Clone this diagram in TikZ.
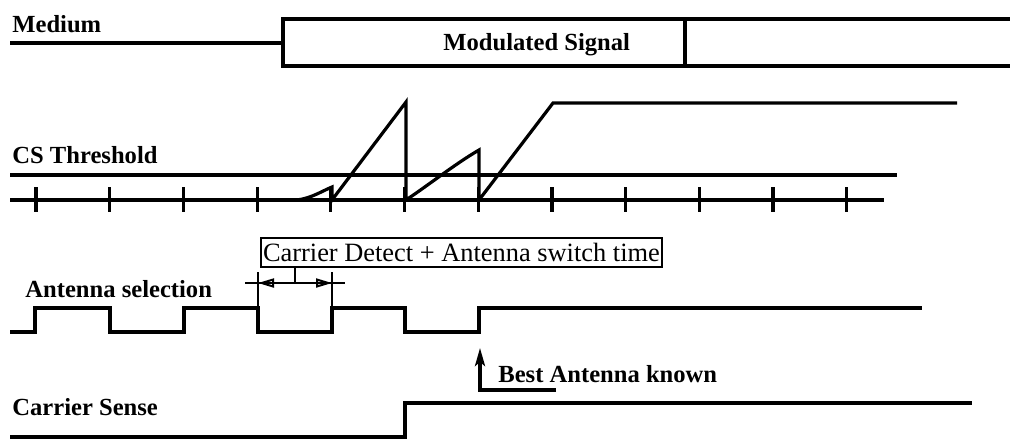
\documentclass[tikz,border=0pt]{standalone}
\usepackage{fontspec}
\setmainfont{Liberation Serif}
\usetikzlibrary{arrows.meta}
\tikzset{
  wave/.style={line width=1.6pt, line join=miter},
  thin/.style={line width=1pt},
  lbl/.style={font=\fontsize{12.3}{14}\selectfont\bfseries, inner sep=0pt, anchor=base west},
}
\begin{document}
\begin{tikzpicture}[x=0.5pt,y=-0.5pt]
\useasboundingbox (0,0) rectangle (1010,441);
% Medium
\node[lbl] (medium) at (12,32) {Medium};
\draw[wave] (10,43) -- (283,43);
\draw[wave] (1015,19) -- (283,19) -- (283,66) -- (1015,66);
\draw[wave] (685,19) -- (685,66);
\node[lbl] (mod) at (443,50) {Modulated Signal};
% CS threshold
\node[lbl] (csth) at (12,163) {CS Threshold};
\draw[wave] (10,175) -- (897,175);
\draw[wave] (10,200) -- (884,200);
\foreach \k in {0,...,11}{
  \draw[wave] ({36+73.7*\k},187) -- ({36+73.7*\k},212);
}
\draw[wave] (297,200) .. controls (312,198) and (322,191) .. (332,187) -- (332,200)
  -- (406,102) -- (406,200)
  .. controls (430,184) and (455,164) .. (479,150) -- (479,200)
  -- (553,103) -- (957,103);
% Antenna selection
\node[lbl] (antsel) at (25,297) {Antenna selection};
\draw[wave] (10,332) -- (35,332) -- (35,308) -- (110,308) -- (110,332) -- (184,332)
  -- (184,308) -- (258,308) -- (258,332) -- (332,332) -- (332,308) -- (405,308)
  -- (405,332) -- (479,332) -- (479,308) -- (922,308);
\draw[thin] (258,272) -- (258,308);
\draw[thin] (332,272) -- (332,308);
\node[draw, thin, anchor=west, inner xsep=1pt, inner ysep=0pt, minimum height=14.5pt,
  font=\fontsize{13.2}{15}\selectfont] (cd) at (260,252.5) {Carrier Detect + Antenna switch time};
\coordinate (mid) at (295,283);
\coordinate (l) at (258,283);
\coordinate (r) at (332,283);
\draw[thin] (245,283) -- (345,283);
\draw[thin] (cd.south -| mid) -- (mid);
\draw[thin, -{Triangle[open,length=8pt,width=4.5pt]}] (mid) -- (l);
\draw[thin, -{Triangle[open,length=8pt,width=4.5pt]}] (mid) -- (r);
% Best antenna known
\node[lbl] (best) at (498,382) {Best Antenna known};
\coordinate (bstart) at (556,390);
\coordinate (bcorner) at (480,390);
\coordinate (btip) at (480,348);
\draw[wave, -{Stealth[length=9pt,width=5pt,inset=2pt]}] (bstart) -- (bcorner) -- (btip);
% Carrier sense
\node[lbl] (cs) at (12,415) {Carrier Sense};
\draw[wave] (10,437) -- (405,437) -- (405,403) -- (972,403);
\end{tikzpicture}
\end{document}
